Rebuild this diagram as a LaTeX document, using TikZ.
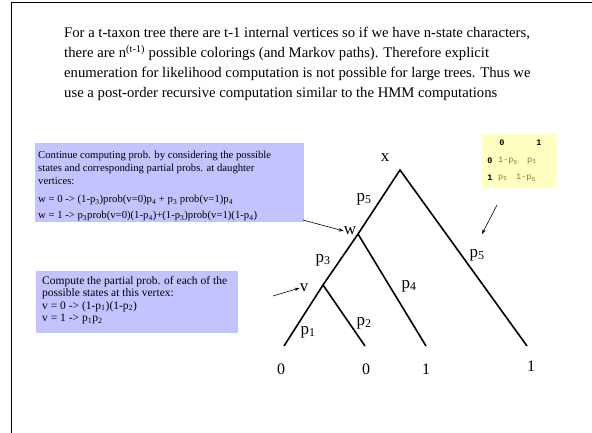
\documentclass[tikz,border=0pt]{standalone}
\usepackage{fontspec}
\setmainfont{Liberation Serif}
\setmonofont{Liberation Mono}
\usetikzlibrary{arrows.meta}
\definecolor{lav}{RGB}{195,195,255}
\definecolor{lyel}{RGB}{255,255,192}
\definecolor{olivegray}{RGB}{130,120,70}
\begin{document}
\begin{tikzpicture}[x=1pt,y=-1pt,
  branch/.style={line width=1.6pt},
  pointer/.style={line width=0.6pt,-{Stealth[length=5pt,width=3.5pt]}},
  lbl/.style={font=\fontsize{17}{20}\selectfont,inner sep=0pt},
  leaf/.style={font=\fontsize{16}{18}\selectfont,inner sep=0pt},
  infotext/.style={font=\fontsize{10.7}{13}\selectfont,align=left,anchor=north west,inner sep=0pt},
  tt/.style={font=\fontsize{8.5}{10}\ttfamily,inner sep=0pt},
  ttv/.style={font=\fontsize{8.5}{10}\ttfamily,text=olivegray,inner sep=0pt,anchor=west}]
\useasboundingbox (0,0) rectangle (592,433);
% frame
\draw[line width=1.2pt] (11.5,433) -- (11.5,2.5) -- (592,2.5);
% top paragraph
\node[font=\fontsize{14.7}{20}\selectfont,align=left,anchor=north west,inner sep=0pt] (intro) at (64,27)
 {For a t-taxon tree there are t-1 internal vertices so if we have n-state characters,\\
  there are n\textsuperscript{(t-1)} possible colorings (and Markov paths). Therefore explicit\\
  enumeration for likelihood computation is not possible for large trees. Thus we\\
  use a post-order recursive computation similar to the HMM computations};
% box 1
\fill[lav] (35,143) rectangle (304,222);
\node[infotext] (b1) at (38,151)
 {Continue computing prob. by considering the possible\\
  states and corresponding partial probs. at daughter\\
  vertices:};
\node[infotext] (b1a) at (38,195) {w = 0 -> (1-p\textsubscript{3})prob(v=0)p\textsubscript{4} + p\textsubscript{3} prob(v=1)p\textsubscript{4}};
\node[infotext] (b1b) at (38,211) {w = 1 -> p\textsubscript{3}prob(v=0)(1-p\textsubscript{4})+(1-p\textsubscript{3})prob(v=1)(1-p\textsubscript{4})};
% box 2
\fill[lav] (36,271) rectangle (238,333);
\node[infotext,font=\fontsize{11.5}{12.4}\selectfont] (b2) at (42,276)
 {Compute the partial prob. of each of the\\
  possible states at this vertex:\\
  v = 0 -> (1-p\textsubscript{1})(1-p\textsubscript{2})\\
  v = 1 -> p\textsubscript{1}p\textsubscript{2}};
% table
\fill[lyel] (482,134) rectangle (557,188);
\node[tt,font=\fontsize{8.5}{10}\ttfamily\bfseries] (h0) at (502,143) {0};
\node[tt,font=\fontsize{8.5}{10}\ttfamily\bfseries] (h1) at (539,143) {1};
\node[tt,font=\fontsize{8.5}{10}\ttfamily\bfseries] (r0) at (490,161) {0};
\node[tt,font=\fontsize{8.5}{10}\ttfamily\bfseries] (r1) at (490,178) {1};
\node[ttv] (c00) at (498,161) {1-p\textsubscript{5}};
\node[ttv] (c01) at (527,161) {p\textsubscript{5}};
\node[ttv] (c10) at (498,178) {p\textsubscript{5}};
\node[ttv] (c11) at (516,178) {1-p\textsubscript{5}};
% tree
\coordinate (root) at (400,170);
\coordinate (w) at (358,234);
\coordinate (v) at (323,285);
\coordinate (l1) at (284,346);
\coordinate (l2) at (365,346);
\coordinate (l3) at (426,346);
\coordinate (l4) at (527,346);
\draw[branch] (l1) -- (v) -- (w) -- (root) -- (l4);
\draw[branch] (w) -- (l3);
\draw[branch] (v) -- (l2);
% labels
\node[lbl] (lx) at (385,158) {x};
\node[lbl] (lp5) at (364,199) {p\textsubscript{5}};
\node[lbl] (lw) at (350,231) {w};
\node[lbl] (lp3) at (323,260) {p\textsubscript{3}};
\node[lbl] (lv) at (304,288) {v};
\node[lbl] (lp4) at (409,286) {p\textsubscript{4}};
\node[lbl] (lp2) at (364,323) {p\textsubscript{2}};
\node[lbl] (lp1) at (308,332) {p\textsubscript{1}};
\node[lbl] (lp5r) at (477,255) {p\textsubscript{5}};
\node[leaf] (z1) at (281,369) {0};
\node[leaf] (z2) at (366,369) {0};
\node[leaf] (o1) at (426,369) {1};
\node[leaf] (o2) at (531,366) {1};
% pointers
\coordinate (a1) at (303,220);
\coordinate (a2) at (273,296);
\coordinate (a3) at (497,205);
\draw[pointer] (a1) -- (lw.west);
\draw[pointer] (a2) -- (lv.west);
\coordinate (a3e) at (482,234);
\draw[pointer] (a3) -- (a3e);
\end{tikzpicture}
\end{document}
